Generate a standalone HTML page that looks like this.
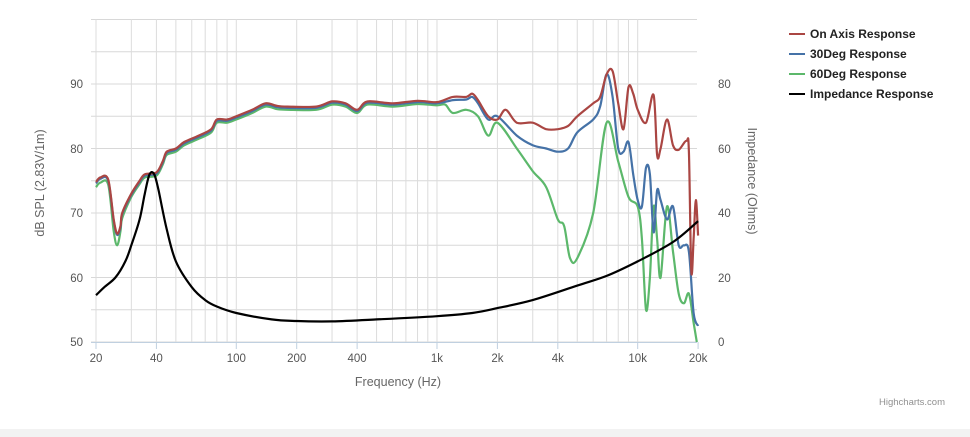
<!DOCTYPE html>
<html><head><meta charset="utf-8"><style>
html,body{margin:0;padding:0;background:#fff;width:970px;height:437px;overflow:hidden}
svg{display:block;font-family:"Liberation Sans",sans-serif}
</style></head><body>
<svg id="s" width="970" height="437" xmlns="http://www.w3.org/2000/svg">
<rect x="0" y="429" width="970" height="8" fill="#f2f2f2"/>
<g id="grid"></g>
<g id="series" fill="none" stroke-width="2.2" stroke-linejoin="round"></g>
<g font-size="11.5" fill="#555">
<text x="83" y="88" text-anchor="end">90</text>
<text x="83" y="153" text-anchor="end">80</text>
<text x="83" y="217" text-anchor="end">70</text>
<text x="83" y="282" text-anchor="end">60</text>
<text x="83" y="346" text-anchor="end">50</text>
<text x="718" y="88">80</text>
<text x="718" y="153">60</text>
<text x="718" y="217">40</text>
<text x="718" y="282">20</text>
<text x="718" y="346">0</text>
</g>
<g id="xl" font-size="11.5" fill="#555" text-anchor="middle"></g>
<text x="398" y="386" font-size="12.5" fill="#666" text-anchor="middle">Frequency (Hz)</text>
<text transform="translate(44,183) rotate(-90)" font-size="12.5" fill="#666" text-anchor="middle">dB SPL (2.83V/1m)</text>
<text transform="translate(748,181) rotate(90)" font-size="12.5" fill="#666" text-anchor="middle">Impedance (Ohms)</text>
<g font-size="12" font-weight="bold" fill="#222">
<line x1="789" y1="34" x2="805" y2="34" stroke="#aa4643" stroke-width="2"/><text x="810" y="38">On Axis Response</text>
<line x1="789" y1="54" x2="805" y2="54" stroke="#4572a7" stroke-width="2"/><text x="810" y="58">30Deg Response</text>
<line x1="789" y1="74" x2="805" y2="74" stroke="#5cb86b" stroke-width="2"/><text x="810" y="78">60Deg Response</text>
<line x1="789" y1="94" x2="805" y2="94" stroke="#000" stroke-width="2"/><text x="810" y="98">Impedance Response</text>
</g>
<text x="945" y="405" font-size="9.5" fill="#909090" text-anchor="end">Highcharts.com</text>
</svg>
<script>
var NS="http://www.w3.org/2000/svg";
function X(f){return 96+200.7*Math.log10(f/20);}
function Y(d){return 342-(d-50)*6.45;}
function YI(o){return 342-o*3.225;}
function el(p,t,a){var e=document.createElementNS(NS,t);for(var k in a)e.setAttribute(k,a[k]);p.appendChild(e);return e;}
var g=document.getElementById('grid');
for(var d=50;d<=100;d+=5){el(g,'line',{x1:91,x2:697,y1:Y(d),y2:Y(d),stroke:'#d8d8d8','stroke-width':1});}
var fs=[];[10,100,1000].forEach(function(m){for(var i=2;i<=10;i++){var f=i*m;if(f>=20&&f<=20000&&fs.indexOf(f)<0)fs.push(f);}});
fs.forEach(function(f){el(g,'line',{x1:X(f),x2:X(f),y1:19,y2:342,stroke:'#dcdcdc','stroke-width':1});});
el(g,'line',{x1:91,x2:697,y1:342.5,y2:342.5,stroke:'#c0d0e0','stroke-width':1});
var xl=document.getElementById('xl');
[[20,'20'],[40,'40'],[100,'100'],[200,'200'],[400,'400'],[1000,'1k'],[2000,'2k'],[4000,'4k'],[10000,'10k'],[20000,'20k']].forEach(function(a){
el(g,'line',{x1:X(a[0]),x2:X(a[0]),y1:342,y2:349,stroke:'#c0d0e0'});
var t=el(xl,'text',{x:X(a[0]),y:362});t.textContent=a[1];});
function path(pts,fy){var P=pts.map(function(p){return[X(p[0]),fy(p[1])];});
var s='M'+P[0][0].toFixed(1)+' '+P[0][1].toFixed(1);
for(var i=0;i<P.length-1;i++){var p0=P[i-1]||P[i],p1=P[i],p2=P[i+1],p3=P[i+2]||p2;
var c1=[p1[0]+(p2[0]-p0[0])/6,p1[1]+(p2[1]-p0[1])/6],c2=[p2[0]-(p3[0]-p1[0])/6,p2[1]-(p3[1]-p1[1])/6];
s+=' C'+c1.map(v=>v.toFixed(1)).join(' ')+' '+c2.map(v=>v.toFixed(1)).join(' ')+' '+p2[0].toFixed(1)+' '+p2[1].toFixed(1);}
return s;}
var low=[[20,74.8],[21,75.5],[23,75.2],[24.5,69],[25.5,66.8],[26.5,68],[27,70],[30,73],[33,75],[35,76],[40,76.3],[43,78],[45,79.5],[50,80],[55,81],[65,82],[75,83],[80,84.5],[90,84.5],[100,85],[120,86],[140,87],[160,86.6],[180,86.5],[250,86.5],[300,87.3],[350,87],[400,86],[450,87.3],[600,87],[800,87.4],[1000,87.2]];
var red=low.concat([[1200,88],[1400,88],[1500,88.5],[1600,87.5],[1800,85],[2000,84.5],[2200,86],[2500,84],[3000,84],[3500,83],[4000,83],[4500,83.5],[5000,85],[6000,87],[6500,88],[7000,91.5],[7500,92],[8000,87],[8500,83],[9000,89.5],[9500,88.5],[10000,86],[11000,84],[12000,88.3],[12500,79],[13000,80],[14000,84.5],[15000,80.5],[16000,79.8],[17500,81.2],[18000,79.5],[18500,61],[19000,66],[19500,72],[20000,66.5]]);
var blue=low.map(function(p){return[p[0],p[1]-0.2];}).concat([[1200,87.5],[1400,87.6],[1500,88],[1600,87],[1800,84.5],[2000,85],[2500,82],[3000,80.5],[3500,80],[4000,79.5],[4500,80],[5000,82.5],[6000,84.5],[6500,86.5],[7000,91.5],[7500,88],[8000,80],[8500,79.5],[9000,81],[9500,76],[10000,72],[10500,71],[11000,77],[11500,76],[12000,67],[12500,73.5],[13000,72],[14000,69],[15000,71],[16000,65],[17000,65],[18000,64],[19000,54.5],[20000,52.5]]);
var green=low.map(function(p){if(p[0]>24&&p[0]<26)return[p[0],p[1]-1.8];return[p[0],p[0]<30?p[1]-0.8:p[1]-0.5];}).concat([[1100,86.8],[1200,85.5],[1400,86],[1600,85],[1800,82],[2000,84],[2500,80],[3000,76.5],[3500,74],[4000,69],[4300,68],[4600,63],[5000,63],[6000,70],[7000,84],[8000,78],[9000,72.5],[10000,71],[10500,66],[11000,55],[11500,60],[12000,71],[12500,66],[13000,60],[14000,71],[15000,64],[16000,57.5],[17000,56],[18000,57.5],[19000,53],[19700,50]]);
var imp=[[20,14.5],[22,17],[25,20],[28,25],[30,30],[33,38],[35,46],[37,52],[39,52],[41,47],[45,35],[50,25],[60,17],[70,13],[80,11],[100,9],[150,7],[200,6.5],[300,6.4],[500,7],[1000,8],[1500,9],[2000,10.5],[3000,13],[5000,17.5],[7000,20.5],[10000,25],[15000,31],[20000,37.5]];
var S=document.getElementById('series');
el(S,'path',{d:path(green,Y),stroke:'#5cb86b'});
el(S,'path',{d:path(blue,Y),stroke:'#4572a7'});
el(S,'path',{d:path(red,Y),stroke:'#aa4643'});
el(S,'path',{d:path(imp,YI),stroke:'#000'});
</script>
</body></html>
